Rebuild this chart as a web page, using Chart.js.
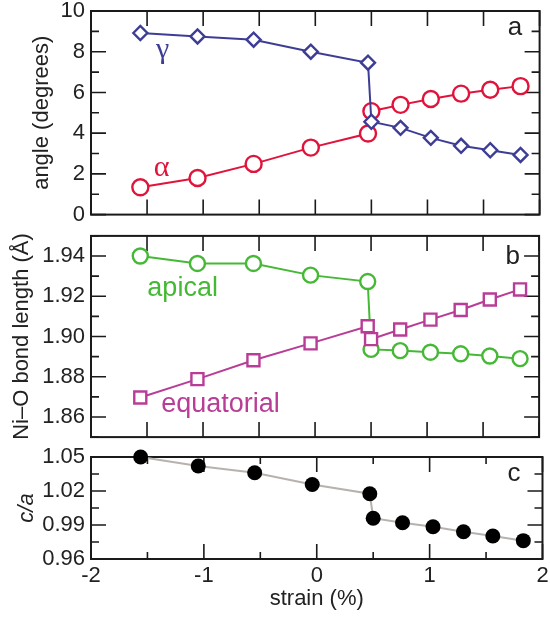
<!DOCTYPE html>
<html><head><meta charset="utf-8">
<script src="https://cdn.jsdelivr.net/npm/chart.js@4.4.1/dist/chart.umd.min.js"></script>
<style>
html,body{margin:0;padding:0;background:#fff;width:550px;height:618px;overflow:hidden}
canvas{position:absolute;left:0}
</style></head>
<body>
<canvas id="ca" width="550" height="225" style="top:0px"></canvas>
<canvas id="cb" width="550" height="223" style="top:225px"></canvas>
<canvas id="cc" width="550" height="170" style="top:448px"></canvas>
<script>
// ---- data ----
const strain      = [-1.56, -1.05, -0.55, -0.04, 0.47, 0.50, 0.76, 1.03, 1.30, 1.56, 1.83];
const gammaAngle  = [8.92, 8.75, 8.59, 8.00, 7.46, 4.56, 4.26, 3.77, 3.38, 3.16, 2.93];
const alphaAngle  = [1.34, 1.80, 2.49, 3.29, 3.98, 5.08, 5.39, 5.68, 5.94, 6.13, 6.31];
const apicalLen   = [1.9400, 1.9363, 1.9363, 1.9305, 1.9273, 1.8936, 1.8930, 1.8922, 1.8914, 1.8903, 1.8890];
const equatLen    = [1.8697, 1.8788, 1.8882, 1.8966, 1.9051, 1.8987, 1.9035, 1.9084, 1.9132, 1.9184, 1.9234];
const cOverA      = [1.0500, 1.0420, 1.0361, 1.0257, 1.0176, 0.9960, 0.9920, 0.9885, 0.9841, 0.9803, 0.9762];
const xTickLabels = ['-2', '-1', '0', '1', '2'];

const SANS = "'Liberation Sans', Arial, Helvetica, sans-serif";
const SERIF = "'Liberation Serif', 'Times New Roman', serif";
const TXT = '#222';

function pts(ys) { return strain.map((x, i) => ({x: x, y: ys[i]})); }

function makeFrame(cfg) {
  return {
    id: 'frame_' + Math.random().toString(36).slice(2),
    beforeDatasetsDraw(chart) {
      const ctx = chart.ctx, a = chart.chartArea, x = chart.scales.x, y = chart.scales.y;
      ctx.save();
      ctx.strokeStyle = '#1a1a1a';
      ctx.lineWidth = 1.6;
      ctx.beginPath();
      y.ticks.forEach(t => {
        const py = y.getPixelForValue(t.value);
        const len = cfg.yMajor(t.value) ? 15 : 8;
        ctx.moveTo(a.left, py); ctx.lineTo(a.left + len, py);
        ctx.moveTo(a.right, py); ctx.lineTo(a.right - len, py);
      });
      x.ticks.forEach(t => {
        const px = x.getPixelForValue(t.value);
        const major = Math.abs(t.value - Math.round(t.value)) < 1e-6;
        const len = major ? 15 : cfg.xMinorLen;
        ctx.moveTo(px, a.bottom); ctx.lineTo(px, a.bottom - len);
        ctx.moveTo(px, a.top); ctx.lineTo(px, a.top + len);
      });
      ctx.stroke();
      ctx.lineWidth = 2;
      ctx.strokeRect(a.left, a.top, a.right - a.left, a.bottom - a.top);
      ctx.restore();
    },
    afterDatasetsDraw(chart) {
      const ctx = chart.ctx, x = chart.scales.x, y = chart.scales.y;
      ctx.save();
      ctx.textBaseline = 'alphabetic';
      ctx.textAlign = 'left';
      cfg.texts.forEach(t => {
        ctx.font = t.font;
        ctx.fillStyle = t.color;
        ctx.fillText(t.text, x.getPixelForValue(t.x), y.getPixelForValue(t.y));
      });
      ctx.restore();
    }
  };
}

function yAxisFit(w) {
  return function(scale) {
    scale.width = w;
    scale.paddingTop = 0; scale.paddingBottom = 0;
  };
}

function xScale(showLabels) {
  return {
    type: 'linear', min: -2, max: 2,
    display: showLabels,
    grid: {display: false, drawTicks: false},
    border: {display: false},
    ticks: {
      stepSize: 0.5, autoSkip: false, maxRotation: 0, padding: 6,
      color: TXT, font: {family: SANS, size: 22, lineHeight: 1},
      callback: v => {
        const i = xTickLabels.indexOf(String(v));
        return i >= 0 ? xTickLabels[i] : '';
      }
    },
    title: {display: showLabels, text: 'strain (%)', color: TXT,
      font: {family: SANS, size: 22}, padding: {top: 0, bottom: 6}},
    afterFit: showLabels ? (s => { s.height = 59; s.paddingLeft = 0; s.paddingRight = 0; }) : undefined
  };
}

function yScale(min, max, step, labelFn, title, titlePad, italic) {
  return {
    type: 'linear', min: min, max: max,
    grid: {display: false, drawTicks: false},
    border: {display: false},
    ticks: {stepSize: step, autoSkip: false, padding: 6, color: TXT,
      font: {family: SANS, size: 22, lineHeight: 1}, callback: labelFn},
    title: {display: true, text: title, color: TXT,
      font: {family: SANS, size: 22, style: italic ? 'italic' : 'normal'},
      padding: {top: titlePad, bottom: 0}},
    afterFit: yAxisFit(91)
  };
}

const common = {
  responsive: false, animation: false, devicePixelRatio: 1,
  plugins: {legend: {display: false}, tooltip: {enabled: false}}
};

// ---- panel a ----
new Chart(document.getElementById('ca'), {
  type: 'line',
  data: {datasets: [
    {data: pts(gammaAngle), borderColor: '#3d3d96', borderWidth: 2, tension: 0,
     pointStyle: 'rectRot', pointRadius: 7, pointBorderWidth: 2.4,
     pointBackgroundColor: '#fff', pointBorderColor: '#3d3d96', clip: false},
    {data: pts(alphaAngle), borderColor: '#e0133b', borderWidth: 2, tension: 0,
     pointStyle: 'circle', pointRadius: 8, pointBorderWidth: 2.4,
     pointBackgroundColor: '#fff', pointBorderColor: '#e0133b', clip: false}
  ]},
  options: Object.assign({}, common, {
    layout: {padding: {top: 11, right: 6, bottom: 8, left: 0}},
    scales: {
      x: xScale(false),
      y: yScale(0, 10, 1, v => (Math.round(v) % 2 === 0 ? String(v) : ''), 'angle (degrees)', 29, false)
    }
  }),
  plugins: [makeFrame({
    yMajor: v => Math.round(v) % 2 === 0, xMinorLen: 15,
    texts: [
      {text: 'γ', x: -1.42, y: 7.67, color: '#3d3d96', font: '30px ' + SERIF},
      {text: 'α', x: -1.44, y: 1.89, color: '#e0133b', font: '30px ' + SERIF},
      {text: 'a', x: 1.716, y: 8.82, color: TXT, font: '26px ' + SANS}
    ]
  })]
});

// ---- panel b ----
new Chart(document.getElementById('cb'), {
  type: 'line',
  data: {datasets: [
    {data: pts(equatLen), borderColor: '#b83d97', borderWidth: 2, tension: 0,
     pointStyle: 'rect', pointRadius: 8.5, pointBorderWidth: 2.4,
     pointBackgroundColor: '#fff', pointBorderColor: '#b83d97', clip: false},
    {data: pts(apicalLen), borderColor: '#45b935', borderWidth: 2, tension: 0,
     pointStyle: 'circle', pointRadius: 7.5, pointBorderWidth: 2.4,
     pointBackgroundColor: '#fff', pointBorderColor: '#45b935', clip: false}
  ]},
  options: Object.assign({}, common, {
    layout: {padding: {top: 8, right: 6, bottom: 9, left: 0}},
    scales: {
      x: xScale(false),
      y: yScale(1.85, 1.95, 0.01, v => (Math.round(v * 100) % 2 === 0 ? v.toFixed(2) : ''), 'Ni–O bond length (Å)', 9, false)
    }
  }),
  plugins: [makeFrame({
    yMajor: v => Math.round(v * 100) % 2 === 0, xMinorLen: 15,
    texts: [
      {text: 'apical', x: -1.497, y: 1.920, color: '#45b935', font: '27px ' + SANS},
      {text: 'equatorial', x: -1.373, y: 1.8624, color: '#b83d97', font: '27px ' + SANS},
      {text: 'b', x: 1.70, y: 1.9361, color: TXT, font: '26px ' + SANS}
    ]
  })]
});

// ---- panel c ----
new Chart(document.getElementById('cc'), {
  type: 'line',
  data: {datasets: [
    {data: pts(cOverA), borderColor: '#b8b2ae', borderWidth: 2, tension: 0,
     pointStyle: 'circle', pointRadius: 7.5, pointBorderWidth: 0,
     pointBackgroundColor: '#000', pointBorderColor: '#000', clip: false}
  ]},
  options: Object.assign({}, common, {
    layout: {padding: {top: 9, right: 6, bottom: 0, left: 0}},
    scales: {
      x: xScale(true),
      y: yScale(0.96, 1.05, 0.015, v => (Math.round(v * 1000) % 30 === 0 ? v.toFixed(2) : ''), 'c/a', 14, true)
    }
  }),
  plugins: [makeFrame({
    yMajor: v => Math.round(v * 1000) % 30 === 0, xMinorLen: 7,
    texts: [
      {text: 'c', x: 1.69, y: 1.0291, color: TXT, font: '26px ' + SANS}
    ]
  })]
});
</script>
</body></html>
